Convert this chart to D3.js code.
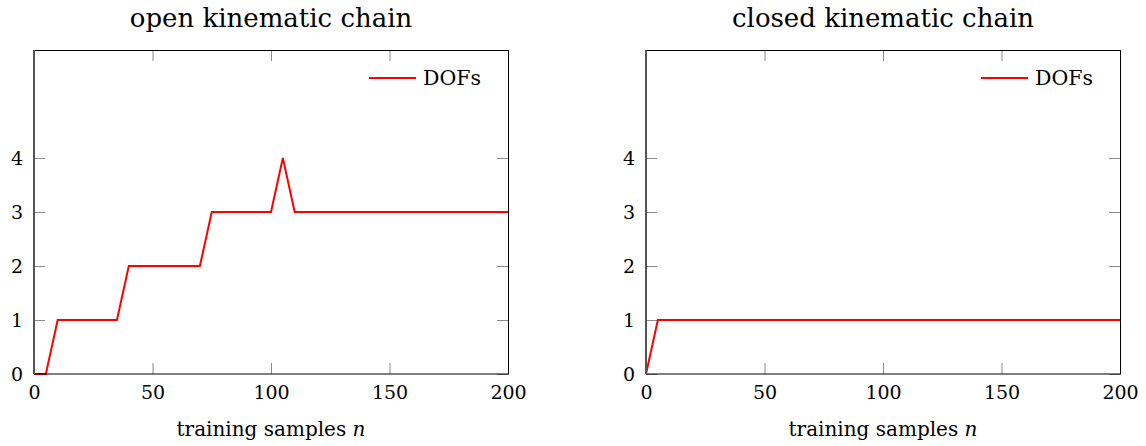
<!DOCTYPE html>
<html>
<head>
<meta charset="utf-8">
<script src="https://cdn.jsdelivr.net/npm/d3@7"></script>
<style>
  html, body { margin: 0; padding: 0; background: #fff; }
  svg { display: block; }
  text { font-family: "DejaVu Serif", serif; fill: #000; }
</style>
</head>
<body>
<svg id="chart" width="1146" height="446"></svg>
<script>
// ---- data ----
const xTicks = [0, 50, 100, 150, 200];
const yTicks = [0, 1, 2, 3, 4];
const titles = ["open kinematic chain", "closed kinematic chain"];
const xLabel = "training samples ";
const xLabelVar = "n";
const legendLabel = "DOFs";
const openN   = [0, 5, 10, 35, 40, 70, 75, 100, 105, 110, 200];
const openDOF = [0, 0, 1, 1, 2, 2, 3, 3, 4, 3, 3];
const closedN   = [0, 5, 200];
const closedDOF = [0, 1, 1];

const panels = [
  { title: titles[0], n: openN, dof: openDOF, left: 34 },
  { title: titles[1], n: closedN, dof: closedDOF, left: 646 }
];

const svg = d3.select("#chart");
const W = 474, plotTop = 50, H = 324;

panels.forEach(p => {
  const g = svg.append("g").attr("transform", `translate(${p.left},${plotTop})`);
  const x = d3.scaleLinear().domain([0, 200]).range([0, W]);
  const y = d3.scaleLinear().domain([0, 6]).range([H, 0]);

  const styleAxis = sel => {
    sel.select(".domain").remove();
    sel.selectAll(".tick line").attr("stroke", "#8a8a8a").attr("stroke-width", 1);
  };
  g.append("g").attr("transform", `translate(0,${H})`)
    .call(d3.axisBottom(x).tickValues(xTicks).tickSize(-11).tickPadding(12).tickFormat(d3.format("d")))
    .call(styleAxis)
    .selectAll("text").attr("font-size", 19).attr("font-family", "DejaVu Serif");
  g.append("g")
    .call(d3.axisTop(x).tickValues(xTicks).tickSize(-11).tickFormat(""))
    .call(styleAxis);
  g.append("g")
    .call(d3.axisLeft(y).tickValues(yTicks).tickSize(-11).tickPadding(11).tickFormat(d3.format("d")))
    .call(styleAxis)
    .selectAll("text").attr("font-size", 19).attr("font-family", "DejaVu Serif");
  g.append("g").attr("transform", `translate(${W},0)`)
    .call(d3.axisRight(y).tickValues(yTicks).tickSize(-11).tickFormat(""))
    .call(styleAxis);

  const pts = p.n.map((v, i) => [v, p.dof[i]]);
  g.append("path")
    .datum(pts)
    .attr("fill", "none")
    .attr("stroke", "#ff0000")
    .attr("stroke-width", 2)
    .attr("stroke-linejoin", "miter")
    .attr("d", d3.line().x(d => x(d[0])).y(d => y(d[1])));

  g.append("rect").attr("x", 0.5).attr("y", 0.5).attr("width", W).attr("height", H - 0.5)
    .attr("fill", "none").attr("stroke", "#000").attr("stroke-width", 1);
  g.append("line").attr("x1", 0).attr("x2", 0).attr("y1", 0).attr("y2", H)
    .attr("stroke", "#555").attr("stroke-width", 2);

  const lx = W - 139, ly = 28;
  g.append("line").attr("x1", lx).attr("x2", lx + 47).attr("y1", ly).attr("y2", ly)
    .attr("stroke", "#ff0000").attr("stroke-width", 2);
  g.append("text").attr("x", lx + 54).attr("y", ly + 7)
    .attr("font-size", 20.5).text(legendLabel);

  g.append("text").attr("x", W / 2).attr("y", -23)
    .attr("text-anchor", "middle").attr("font-size", 26).text(p.title);

  const t = g.append("text").attr("x", W / 2).attr("y", H + 62)
    .attr("text-anchor", "middle").attr("font-size", 20);
  t.append("tspan").text(xLabel);
  t.append("tspan").attr("font-style", "italic").text(xLabelVar);
});
</script>
</body>
</html>
